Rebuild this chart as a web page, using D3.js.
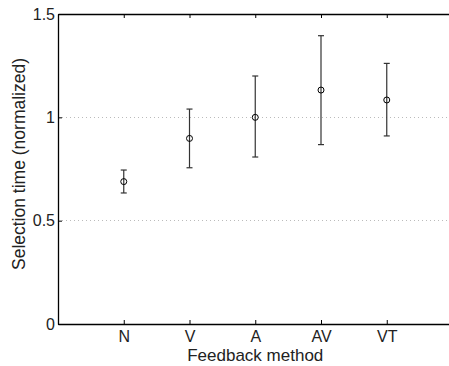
<!DOCTYPE html>
<html><head><meta charset="utf-8">
<script src="https://cdn.jsdelivr.net/npm/d3@7"></script>
<style>body{margin:0;background:#fff}svg{display:block}text{font-family:"Liberation Sans",Arial,sans-serif;fill:#222}</style>
</head><body><svg id="c" width="449" height="366"></svg>
<script>
const categories = ["N","V","A","AV","VT"];
const means = [0.689, 0.898, 1.0, 1.132, 1.084];
const upper = [0.745, 1.040, 1.200, 1.395, 1.261];
const lower = [0.634, 0.756, 0.808, 0.868, 0.910];
const yTicks = [0, 0.5, 1, 1.5];
const gridVals = [0.5, 1];

const svg = d3.select("#c");
const x = d3.scaleLinear().domain([0, 6]).range([58, 452.5]);
const y = d3.scaleLinear().domain([0, 1.5]).range([324, 14]);

// grid
svg.selectAll(".grid").data(gridVals).enter().append("line")
  .attr("x1", x(0)).attr("x2", x(6)).attr("y1", d => y(d)).attr("y2", d => y(d))
  .attr("stroke", "#bbb").attr("stroke-width", 1).attr("stroke-dasharray", "1,3")
  .attr("shape-rendering", "crispEdges");

// axes
const xAx = d3.axisBottom(x).tickValues([1,2,3,4,5]).tickFormat((d) => categories[d-1]).tickSizeInner(-4).tickSizeOuter(0).tickPadding(7);
const gx = svg.append("g").attr("transform", `translate(0,${y(0)})`).call(xAx);
const xTop = d3.axisTop(x).tickValues([1,2,3,4,5]).tickFormat("").tickSizeInner(-4).tickSizeOuter(0);
const gt = svg.append("g").attr("transform", `translate(0,${y(1.5)})`).call(xTop);
const yAx = d3.axisLeft(y).tickValues(yTicks).tickFormat(d3.format("")).tickSizeInner(-4).tickSizeOuter(0).tickPadding(3);
const gy = svg.append("g").attr("transform", `translate(${x(0)},0)`).call(yAx);
[gx, gt, gy].forEach(g => {
  g.attr("font-size", 16).attr("font-family", '"Liberation Sans",Arial,sans-serif');
  g.selectAll("path").attr("stroke", "#000").attr("stroke-width", 1.3);
  g.selectAll("line").attr("stroke", "#000");
  g.selectAll("text").attr("fill", "#222");
});

// error bars
const g = svg.append("g");
const idx = d3.range(categories.length);
g.selectAll(".eb").data(idx).enter().append("line")
  .attr("x1", i => x(i+1)).attr("x2", i => x(i+1))
  .attr("y1", i => y(lower[i])).attr("y2", i => y(upper[i]))
  .attr("stroke", "#333").attr("stroke-width", 1.2);
g.selectAll(".capu").data(idx).enter().append("line")
  .attr("x1", i => x(i+1)-3).attr("x2", i => x(i+1)+3)
  .attr("y1", i => y(upper[i])).attr("y2", i => y(upper[i]))
  .attr("stroke", "#333").attr("stroke-width", 1.2);
g.selectAll(".capl").data(idx).enter().append("line")
  .attr("x1", i => x(i+1)-3).attr("x2", i => x(i+1)+3)
  .attr("y1", i => y(lower[i])).attr("y2", i => y(lower[i]))
  .attr("stroke", "#333").attr("stroke-width", 1.2);
g.selectAll("circle").data(idx).enter().append("circle")
  .attr("cx", i => x(i+1)).attr("cy", i => y(means[i])).attr("r", 3)
  .attr("fill", "none").attr("stroke", "#000").attr("stroke-width", 1);

// labels
svg.append("text").attr("x", x(3)).attr("y", 361).attr("text-anchor", "middle")
  .attr("font-size", 17).text("Feedback method");
svg.append("text").attr("transform", `translate(25,164) rotate(-90)`).attr("text-anchor", "middle")
  .attr("font-size", 17.5).text("Selection time (normalized)");
</script></body></html>
